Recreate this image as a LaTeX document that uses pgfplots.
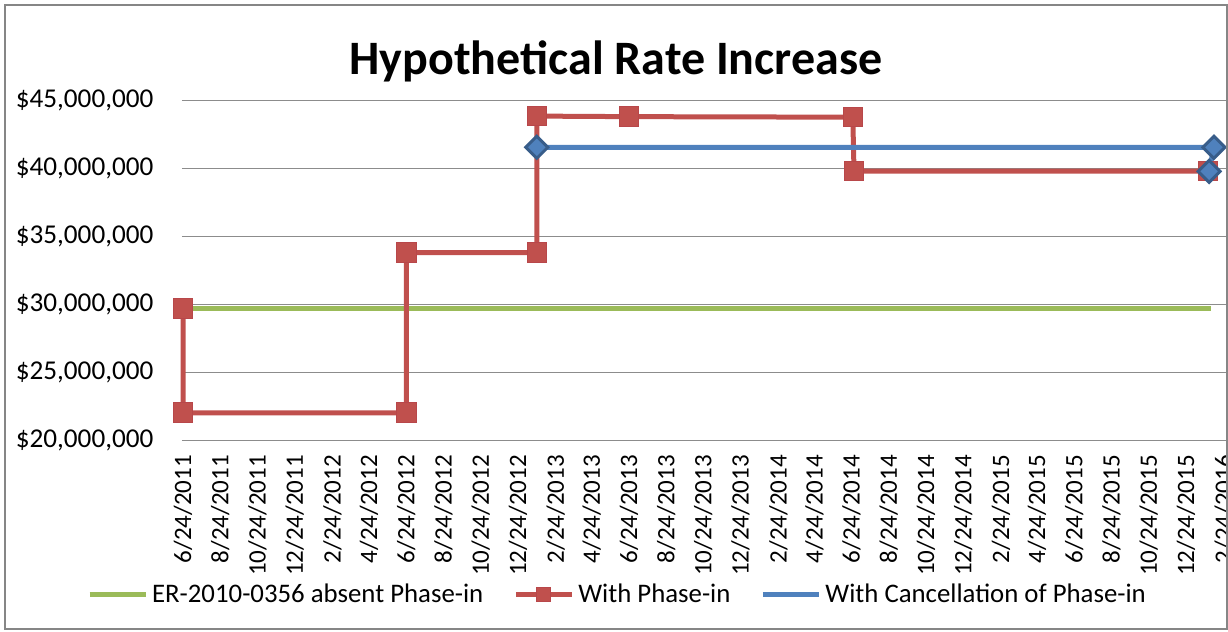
\documentclass[border=0pt]{standalone}
\usepackage{pgfplots}
\pgfplotsset{compat=1.18}
\usepackage{fontspec}
\setmainfont{Carlito}
\definecolor{exgreen}{HTML}{9BBB59}
\definecolor{exred}{HTML}{C0504D}
\definecolor{exreddark}{HTML}{B8474A}
\definecolor{exblue}{HTML}{4F81BD}
\definecolor{exbluedark}{HTML}{385D8A}
\definecolor{gridgray}{HTML}{8C8C8C}
\definecolor{framegray}{HTML}{868686}
\pgfplotsset{
  lineonly legend/.style={legend image code/.code={\draw[##1, mark=none] (0pt,0pt) -- (28pt,0pt);}},
  linemark legend/.style={legend image code/.code={\draw[##1, mark=none] (0pt,0pt) -- (28pt,0pt); \draw[##1, mark size=3.5pt] plot coordinates {(14pt,0pt)};}},
}
\begin{document}
\begin{tikzpicture}
\begin{scope}
\clip (2.5pt,1.5pt) rectangle (613.25pt,313.5pt);
\node[anchor=base, font=\fontsize{24}{29}\selectfont\bfseries] at (308pt,278.5pt) {Hypothetical Rate Increase};
\begin{axis}[
  at={(90.9pt,95.65pt)}, anchor=south west,
  scale only axis, width=537.41pt, height=170.2pt,
  xmin=-2, xmax=1760, ymin=20, ymax=45,
  clip=false,
  axis line style={draw=none},
  tick style={draw=none},
  ymajorgrids, major grid style={gridgray, line width=0.6pt},
  ytick={20,25,30,35,40,45},
  yticklabels={{\$20,000,000},{\$25,000,000},{\$30,000,000},{\$35,000,000},{\$40,000,000},{\$45,000,000}},
  yticklabel style={anchor=east, inner sep=0pt, xshift=-14pt, font=\fontsize{13.6}{16}\selectfont},
  xtick={0,61,122,183,245,305,366,427,488,549,611,670,731,792,853,914,976,1035,1096,1157,1218,1279,1341,1400,1461,1522,1583,1644,1706},
  xticklabels={6/24/2011,8/24/2011,10/24/2011,12/24/2011,2/24/2012,4/24/2012,6/24/2012,8/24/2012,10/24/2012,12/24/2012,2/24/2013,4/24/2013,6/24/2013,8/24/2013,10/24/2013,12/24/2013,2/24/2014,4/24/2014,6/24/2014,8/24/2014,10/24/2014,12/24/2014,2/24/2015,4/24/2015,6/24/2015,8/24/2015,10/24/2015,12/24/2015,2/24/2016},
  xticklabel style={yshift=-7pt, rotate=90, anchor=east, inner sep=0pt, font=\fontsize{12.5}{15}\selectfont},
  legend columns=3,
  legend style={draw=none, fill=none, at={(0.4063,-0.4533)}, anchor=center,
    font=\fontsize{13.4}{16}\selectfont, inner sep=0pt,
    /tikz/every even column/.append style={column sep=13pt}},
]
\addplot[exgreen, line width=2.5pt, mark=none, lineonly legend]
  coordinates {(0,29.72) (1685,29.72)};
\addlegendentry{ER-2010-0356 absent Phase-in}
\addplot[exred, line width=2.5pt, mark=square*, mark size=4.9pt,
  mark options={fill=exred, draw=exreddark, line width=0.5pt, solid}, linemark legend]
  coordinates {(0,29.72) (0,22.05) (366,22.05) (366,33.82) (580,33.82) (580,43.84) (731,43.80) (1098,43.76) (1100,39.80) (1680,39.80)};
\addlegendentry{With Phase-in}
\addplot[exblue, line width=2.5pt, mark=square*, mark size=3.9pt,
  mark options={fill=exblue, draw=exbluedark, line width=1.5pt, rotate=45, solid}, lineonly legend]
  coordinates {(580,41.55) (1690,41.55) (1682,39.78)};
\addlegendentry{With Cancellation of Phase-in}
\end{axis}
\end{scope}
\draw[framegray, line width=1pt] (2.5pt,1.5pt) rectangle (613.25pt,313.5pt);
\pgfresetboundingbox
\useasboundingbox (0pt,0pt) rectangle (614pt,316pt);
\end{tikzpicture}
\end{document}
